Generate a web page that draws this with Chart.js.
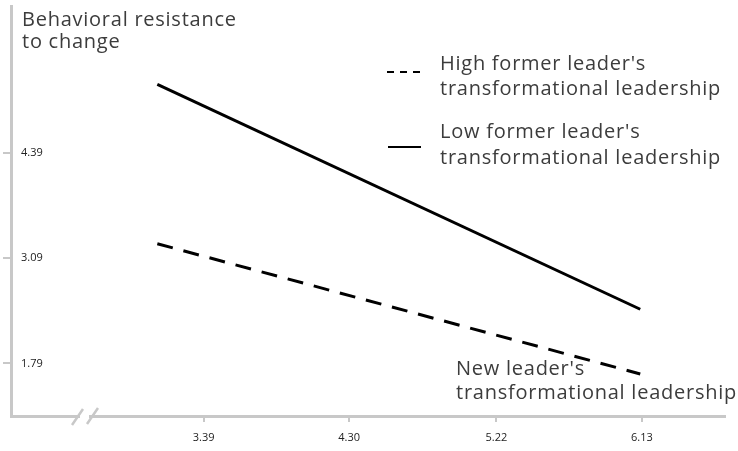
<!DOCTYPE html>
<html>
<head>
<meta charset="utf-8">
<script src="https://cdn.jsdelivr.net/npm/chart.js@4.4.0/dist/chart.umd.min.js"></script>
<style>
  html, body { margin: 0; padding: 0; background: #fff; }
  #wrap { width: 738px; height: 451px; }
</style>
</head>
<body>
<div id="wrap"><canvas id="resistChart" width="738" height="451"></canvas></div>
<script>
// values
const newLeaderTL = [3.10, 6.12];
const highFormer = [3.27, 1.66];
const lowFormer = [5.24, 2.46];
const xTicks = [3.39, 4.30, 5.22, 6.13];
const yTicks = [1.79, 3.09, 4.39];
const highName = ["High former leader's", "transformational leadership"];
const lowName = ["Low former leader's", "transformational leadership"];
const yTitle = ["Behavioral resistance", "to change"];
const xTitle = ["New leader's", "transformational leadership"];

const textFont = "20px 'Open Sans'";
const textColor = "#3c3c3c";
const axisGrey = "#c8c8c8";

function toPoints(xs, ys) {
  return xs.map((x, i) => ({ x: x, y: ys[i] }));
}

const extraText = {
  id: "extraText",
  afterDraw(chart) {
    const ctx = chart.ctx;
    const area = chart.chartArea;
    ctx.save();
    ctx.font = textFont;
    ctx.letterSpacing = "0.75px";
    ctx.fillStyle = textColor;
    ctx.textAlign = "left";
    ctx.textBaseline = "alphabetic";
    // y axis title
    ctx.fillText(yTitle[0], 22, 26);
    ctx.fillText(yTitle[1], 22, 48);
    // x axis title
    ctx.fillText(xTitle[0], 456, 375);
    ctx.fillText(xTitle[1], 456, 399);
    // legend
    ctx.fillText(highName[0], 440, 70);
    ctx.fillText(highName[1], 440, 95);
    ctx.fillText(lowName[0], 440, 138);
    ctx.fillText(lowName[1], 440, 164);
    ctx.strokeStyle = "#000";
    ctx.lineWidth = 2;
    ctx.setLineDash([7, 6]);
    ctx.beginPath();
    ctx.moveTo(387, 72);
    ctx.lineTo(421, 72);
    ctx.stroke();
    ctx.setLineDash([]);
    ctx.beginPath();
    ctx.moveTo(388, 147);
    ctx.lineTo(421, 147);
    ctx.stroke();
    // axis break
    const b = area.bottom;
    ctx.fillStyle = "#fff";
    ctx.fillRect(80, b - 3, 9, 6);
    ctx.strokeStyle = axisGrey;
    ctx.lineWidth = 2.5;
    ctx.beginPath();
    ctx.moveTo(72, b + 9);
    ctx.lineTo(83, b - 7);
    ctx.moveTo(87, b + 8);
    ctx.lineTo(98, b - 8);
    ctx.stroke();
    ctx.restore();
  }
};

const data = {
  datasets: [
    {
      label: highName.join(" "),
      data: toPoints(newLeaderTL, highFormer),
      borderColor: "#000",
      borderWidth: 3,
      borderDash: [16, 11],
      pointRadius: 0,
      fill: false,
    },
    {
      label: lowName.join(" "),
      data: toPoints(newLeaderTL, lowFormer),
      borderColor: "#000",
      borderWidth: 3,
      pointRadius: 0,
      fill: false,
    },
  ],
};

const options = {
  responsive: false,
  animation: false,
  layout: { padding: { left: 0, top: 6, right: 13, bottom: 0 } },
  plugins: { legend: { display: false }, tooltip: { enabled: false } },
  scales: {
    x: {
      type: "linear",
      min: 2.185,
      max: 6.65,
      afterBuildTicks: (s) => { s.ticks = xTicks.map((v) => ({ value: v })); },
      afterFit: (s) => { s.height = 35; s.paddingLeft = 0; s.paddingRight = 0; },
      grid: { drawOnChartArea: false, tickLength: 6, color: axisGrey, lineWidth: 2 },
      border: { color: axisGrey, width: 3 },
      ticks: {
        font: { family: "'Open Sans'", size: 11 },
        color: "#222",
        padding: 9,
        maxRotation: 0,
        autoSkip: false,
        callback: (v) => Number(v).toFixed(2),
      },
    },
    y: {
      type: "linear",
      min: 1.14,
      max: 6.21,
      afterBuildTicks: (s) => { s.ticks = yTicks.map((v) => ({ value: v })); },
      afterFit: (s) => { s.width = 11; s.paddingTop = 0; s.paddingBottom = 0; },
      grid: { drawOnChartArea: false, tickLength: 8, color: axisGrey, lineWidth: 2 },
      border: { color: axisGrey, width: 3 },
      ticks: {
        mirror: true,
        padding: 10,
        font: { family: "'Open Sans'", size: 11 },
        color: "#222",
        callback: (v) => Number(v).toFixed(2),
      },
    },
  },
};

const chart = new Chart(document.getElementById("resistChart"), {
  type: "line",
  data: data,
  options: options,
  plugins: [extraText],
});
</script>
</body>
</html>
